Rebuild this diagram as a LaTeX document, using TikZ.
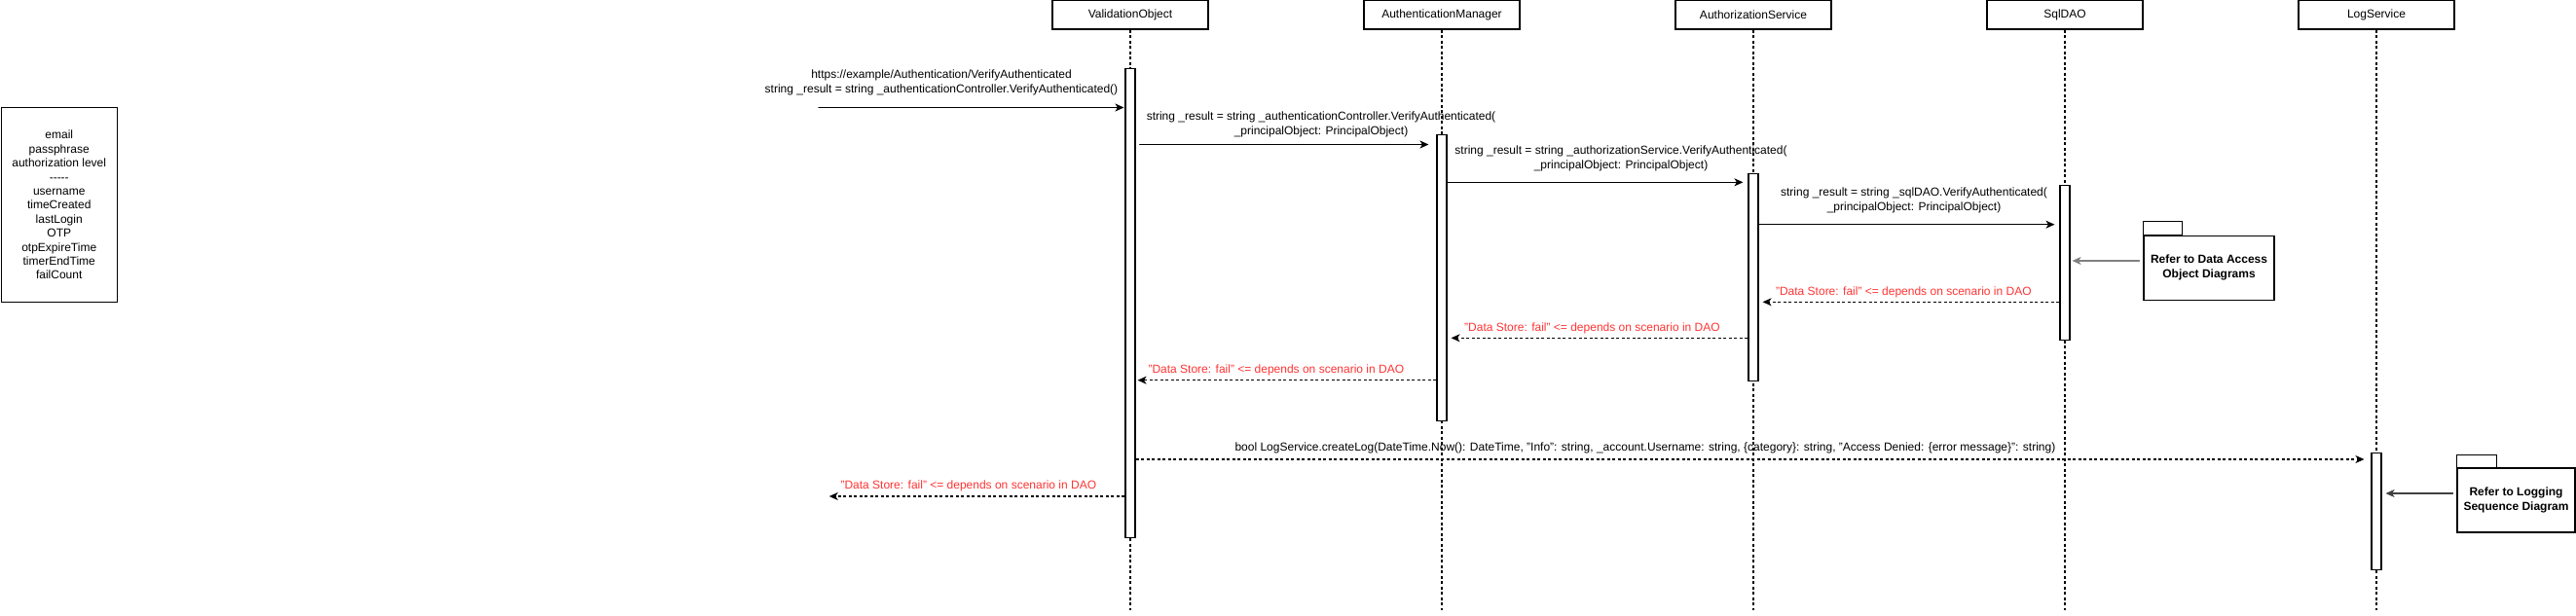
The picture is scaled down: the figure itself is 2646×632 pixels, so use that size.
\documentclass[tikz,border=0pt]{standalone}
\usepackage{fontspec}
\setmainfont{Liberation Sans}
\usepackage{tikz}
\usetikzlibrary{arrows.meta, calc}
\definecolor{failRed}{rgb}{1, 0.2, 0.2}
\tikzset{
	head/.style={draw, fill=white, minimum width=160pt, minimum height=30pt, inner sep=0pt, font=\fontsize{12}{15}\selectfont},
	lifeline/.style={dash pattern=on 3pt off 2.5pt, line cap=butt},
	actbox/.style={draw, fill=white, minimum width=10pt, inner sep=0pt, anchor=north},
	msg/.style={-{Stealth[length=9pt, width=8pt, inset=2.5pt]}, shorten >=5pt},
	ret/.style={msg, dash pattern=on 3pt off 2.5pt, line cap=butt, shorten >=4pt},
	lbl/.style={font=\fontsize{12}{15}\selectfont, align=center, inner sep=0pt},
	failtxt/.style={lbl, text=failRed, anchor=west},
	pkgbody/.style={draw, fill=white, minimum height=66pt, inner sep=0pt, align=center, font=\fontsize{12}{15}\selectfont\bfseries},
	refarrow/.style={-{Stealth[length=9pt, width=8pt, inset=2.5pt]}}
}

\begin{document}
\begin{tikzpicture}[x=1pt, y=-1pt, line width=1.1pt, line cap=round]
	\useasboundingbox (0,0) rectangle (2646,632);

	\node[draw, minimum width=119pt, minimum height=200pt, anchor=north west, inner sep=0pt, align=center, font=\fontsize{12}{14.4}\selectfont] (note) at (0.7,110) {email\\passphrase\\authorization level\\-{}-{}-{}-{}-\\username\\timeCreated\\lastLogin\\OTP\\otpExpireTime\\timerEndTime\\failCount};

	\node[head] (hVO) at (1161,15) {ValidationObject};
	\node[head] (hAM) at (1481,15) {AuthenticationManager};
	\node[head] (hAS) at (1801,15) {AuthorizationService};
	\node[head] (hDAO) at (2121,15) {SqlDAO};
	\node[head] (hLog) at (2441,15) {LogService};

	\foreach \h in {hVO, hAM, hAS, hDAO, hLog}
		\draw[lifeline] (\h.south) -- (\h.south |- 0,627);

	\node[actbox, minimum height=482pt] (aVO) at (1161,70) {};
	\node[actbox, minimum height=294pt] (aAM) at (1481,138) {};
	\node[actbox, minimum height=213pt] (aAS) at (1801,178) {};
	\node[actbox, minimum height=159pt] (aDAO) at (2121,190) {};
	\node[actbox, minimum height=120pt] (aLog) at (2441,465) {};

	\coordinate (entry) at (841,110.5);
	\draw[msg, shorten >=1pt] (entry) -- (aVO.west |- entry);
	\node[lbl] (l0) at (967,85) {https://example/Authentication/VerifyAuthenticated\\string \_result = string \_authenticationController.VerifyAuthenticated()};

	\draw[msg, shorten <=4pt, shorten >=8pt] (aVO.east |- 0,148.5) -- (aAM.west |- 0,148.5);
	\node[lbl] (l1) at (1357,127.5) {string \_result = string \_authenticationController.VerifyAuthenticated(\\\_principalObject: PrincipalObject)};

	\draw[msg] (aAM.east |- 0,187.3) -- (aAS.west |- 0,187.3);
	\node[lbl] (l2) at (1665,163.2) {string \_result = string \_authorizationService.VerifyAuthenticated(\\\_principalObject: PrincipalObject)};

	\draw[msg] (aAS.east |- 0,230.7) -- (aDAO.west |- 0,230.7);
	\node[lbl] (l3) at (1966,205.8) {string \_result = string \_sqlDAO.VerifyAuthenticated(\\\_principalObject: PrincipalObject)};

	\node[pkgbody, minimum width=134pt] (pkgDAO) at (2269,275.3) {Refer to Data Access\\Object Diagrams};
	\draw (pkgDAO.north west) rectangle ++(40,-14);
	\draw[refarrow, gray, shorten <=4pt, shorten >=2pt] (pkgDAO.west |- 0,268) -- (aDAO.east |- 0,268);

	\draw[ret] (aDAO.west |- 0,310.3) -- (aAS.east |- 0,310.3);
	\node[failtxt] (f1) at (1823.5,300) {"Data Store: fail" <= depends on scenario in DAO};

	\draw[ret] (aAS.west |- 0,347.3) -- (aAM.east |- 0,347.3);
	\node[failtxt] (f2) at (1503.6,337.3) {"Data Store: fail" <= depends on scenario in DAO};

	\draw[ret, shorten >=2pt] (aAM.west |- 0,390.7) -- (aVO.east |- 0,390.7);
	\node[failtxt] (f3) at (1179,380.7) {"Data Store: fail" <= depends on scenario in DAO};

	\draw[ret, shorten >=7pt] (aVO.east |- 0,472) -- (aLog.west |- 0,472);
	\node[lbl, anchor=west] (lLog) at (1268,460) {bool LogService.createLog(DateTime.Now(): DateTime, "Info": string, \_account.Username: string, \{category\}: string, "Access Denied: \{error message\}": string)};

	\node[pkgbody, minimum width=121pt] (pkgLog) at (2584.5,514) {Refer to Logging\\Sequence Diagram};
	\draw (pkgLog.north west) rectangle ++(41,-13);
	\draw[refarrow, black!75, shorten <=4pt, shorten >=4pt] (pkgLog.west |- 0,507) -- (aLog.east |- 0,507);

	\coordinate (exit) at (851.7,510);
	\draw[ret, shorten >=0pt] (aVO.west |- exit) -- (exit);
	\node[failtxt] (f4) at (863,499.3) {"Data Store: fail" <= depends on scenario in DAO};

\end{tikzpicture}
\end{document}
